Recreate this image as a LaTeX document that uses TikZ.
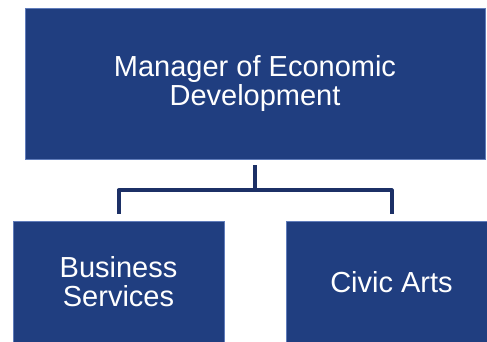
\documentclass[tikz,border=0pt]{standalone}
\usepackage{fontspec}
\setmainfont{Liberation Sans}
\definecolor{boxblue}{RGB}{32,62,128}
\definecolor{boxedge}{RGB}{96,124,186}
\definecolor{linkblue}{RGB}{28,48,102}
\begin{document}
\begin{tikzpicture}[x=1pt,y=1pt,
  unit/.style={rectangle, fill=boxblue, draw=boxedge, line width=0.8pt,
    inner sep=0pt, text=white, align=center,
    font=\fontsize{29}{29}\selectfont},
  link/.style={draw=linkblue, line width=4pt, line join=round}]
  \useasboundingbox (0,0) rectangle (487,342);
  \node[unit, minimum width=460pt, minimum height=151pt] (mgr) at (255,258.5)
    {Manager of Economic\\Development};
  \node[unit, minimum width=211pt, minimum height=122pt] (biz) at (118.5,60)
    {Business\\Services};
  \node[unit, minimum width=211pt, minimum height=122pt] (arts) at (391.5,60)
    {Civic Arts};
  %%% fourche sous le manager
  \coordinate (fork) at ([yshift=-31pt]mgr.south);
  \draw[link, shorten <=6pt] (mgr.south) -- (fork);
  \draw[link, shorten >=7pt] (fork) -| (biz.north);
  \draw[link, shorten >=7pt] (fork) -| (arts.north);
\end{tikzpicture}
\end{document}
